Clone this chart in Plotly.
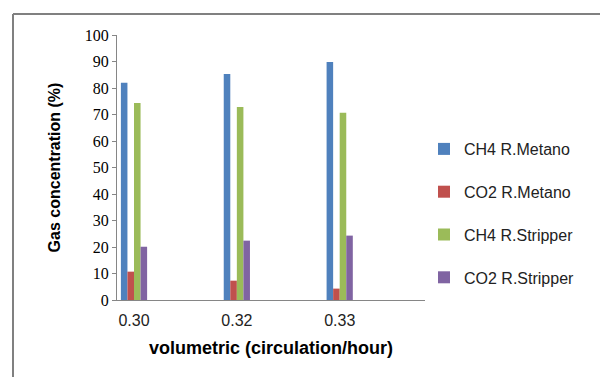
import plotly.graph_objects as go

categories = ["0.30", "0.32", "0.33"]
series_names = ["CH4 R.Metano", "CO2 R.Metano", "CH4 R.Stripper", "CO2 R.Stripper"]
ch4_metano = [82.0, 85.3, 89.8]
co2_metano = [10.7, 7.3, 4.3]
ch4_stripper = [74.3, 72.8, 70.7]
co2_stripper = [20.1, 22.4, 24.3]
colors = ["#4F81BD", "#C0504D", "#9BBB59", "#8064A2"]
y_ticks = list(range(0, 101, 10))

W, H = 600, 377
L, R, T, B = 117, 425, 35, 300
x_pos = list(range(len(categories)))

fig = go.Figure()
for i, (name, vals) in enumerate(zip(series_names, [ch4_metano, co2_metano, ch4_stripper, co2_stripper])):
    fig.add_trace(go.Bar(x=x_pos, y=vals, name=name, marker=dict(color=colors[i], line=dict(width=0)),
                         legendgroup=name))

def px_x(p):
    return (p - L) / (R - L)

def px_y(p):
    return (B - p) / (B - T)

shapes = [
    dict(type="line", xref="paper", yref="paper", x0=px_x(13), x1=px_x(600), y0=px_y(14), y1=px_y(14),
         line=dict(color="#808080", width=2)),
    dict(type="line", xref="paper", yref="paper", x0=px_x(13), x1=px_x(13), y0=px_y(14), y1=px_y(377),
         line=dict(color="#808080", width=2)),
]

fig.update_layout(
    width=W, height=H,
    margin=dict(l=L, r=W - R, t=T, b=H - B, pad=0),
    paper_bgcolor="white", plot_bgcolor="white",
    barmode="group", bargap=0.745, bargroupgap=0,
    showlegend=True,
    legend=dict(x=px_x(424), xanchor="left", y=px_y(132), yanchor="top",
                font=dict(family="Liberation Sans", size=16, color="#222222"),
                tracegroupgap=19, bgcolor="rgba(0,0,0,0)", traceorder="grouped"),
    shapes=shapes,
    font=dict(family="Liberation Sans", color="#000000"),
)
fig.update_xaxes(
    range=[(L - 134) / 102.85, (R - 134) / 102.85],
    tickmode="array", tickvals=x_pos, ticktext=categories,
    showline=True, linecolor="#868686", linewidth=1,
    ticks="", showgrid=False, zeroline=False,
    tickfont=dict(family="Liberation Sans", size=16, color="#222222"),
    ticklabelstandoff=6,
    title=dict(text="<b>volumetric (circulation/hour)</b>", font=dict(family="Liberation Sans", size=18, color="#000000"),
               standoff=13),
)
fig.update_yaxes(
    range=[0, 100], tickmode="array", tickvals=y_ticks,
    showline=True, linecolor="#868686", linewidth=1,
    ticks="outside", ticklen=4, tickcolor="#868686",
    showgrid=False, zeroline=False,
    tickfont=dict(family="Liberation Serif", size=16, color="#000000"),
    title=dict(text="<b>Gas concentration (%)</b>", font=dict(family="Liberation Sans", size=16, color="#000000"),
               standoff=20),
)

fig.write_html("out.html")
